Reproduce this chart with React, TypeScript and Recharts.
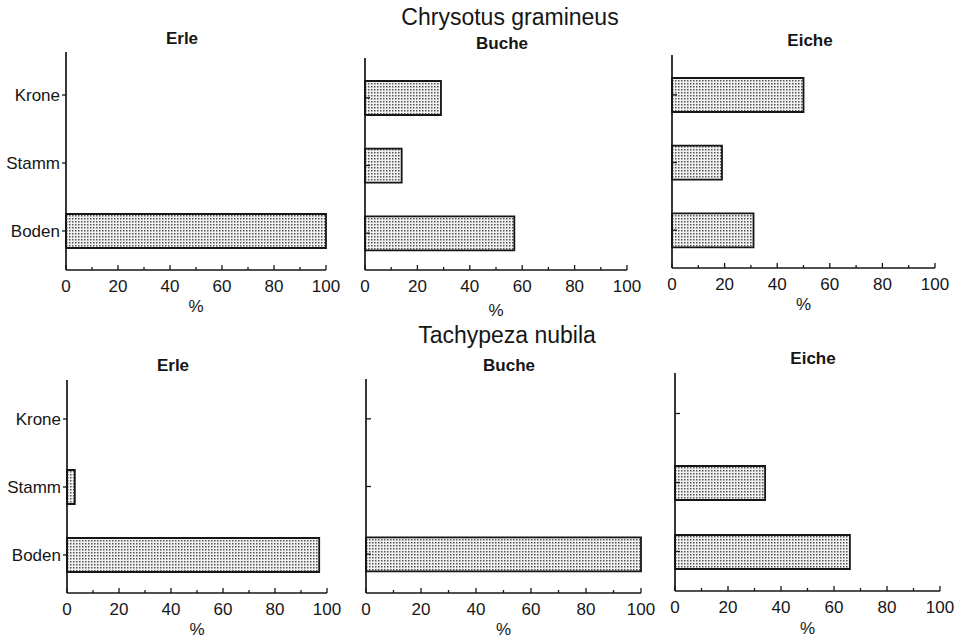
import { BarChart, Bar, XAxis, YAxis } from 'recharts'

// zones on the tree, top to bottom
const zones = ['Krone', 'Stamm', 'Boden']

// share of catches per zone, %
const chrysotusErle = [0, 0, 100]
const chrysotusBuche = [29, 14, 57]
const chrysotusEiche = [50, 19, 31]
const tachypezaErle = [0, 3, 97]
const tachypezaBuche = [0, 0, 100]
const tachypezaEiche = [0, 34, 66]

const xTicks = [0, 10, 20, 30, 40, 50, 60, 70, 80, 90, 100]

const FONT = '"Liberation Sans", Arial, Helvetica, sans-serif'
const INK = '#161616'

interface PanelLayout {
  title: string
  values: number[]
  x0: number
  x1: number
  top: number
  bottom: number
  padTop: number
  padBottom: number
  titleX: number
  titleY: number
  pctY: number
  labels: boolean
}

const panels: PanelLayout[] = [
  { title: 'Erle', values: chrysotusErle, x0: 66, x1: 326, top: 52, bottom: 270, padTop: 9, padBottom: 5, titleX: 182, titleY: 38, pctY: 306, labels: true },
  { title: 'Buche', values: chrysotusBuche, x0: 365, x1: 627, top: 58, bottom: 270, padTop: 6, padBottom: 3, titleX: 502, titleY: 43, pctY: 310, labels: false },
  { title: 'Eiche', values: chrysotusEiche, x0: 672, x1: 935, top: 55, bottom: 268, padTop: 6, padBottom: 4, titleX: 810, titleY: 40, pctY: 304, labels: false },
  { title: 'Erle', values: tachypezaErle, x0: 67, x1: 327, top: 380, bottom: 593, padTop: 5, padBottom: 4, titleX: 173, titleY: 365, pctY: 629, labels: true },
  { title: 'Buche', values: tachypezaBuche, x0: 366, x1: 641, top: 379, bottom: 593, padTop: 6, padBottom: 5, titleX: 509, titleY: 365, pctY: 629, labels: false },
  { title: 'Eiche', values: tachypezaEiche, x0: 675, x1: 940, top: 373, bottom: 591, padTop: 6, padBottom: 5, titleX: 813, titleY: 358, pctY: 628, labels: false },
]

const speciesTitles = [
  { text: 'Chrysotus gramineus', x: 510, y: 17 },
  { text: 'Tachypeza nubila', x: 507, y: 335 },
]

function XTick(props: any) {
  const { x, y, payload } = props
  const major = payload.value % 20 === 0
  return (
    <g>
      <line x1={x} x2={x} y1={y} y2={y - (major ? 5 : 3)} stroke={INK} strokeWidth={1.3} />
      {major && (
        <text x={x} y={y + 22} textAnchor="middle" fontSize={17} fontFamily={FONT} fill={INK}>
          {payload.value}
        </text>
      )}
    </g>
  )
}

function YTick(props: any) {
  const { x, y, payload, labelled } = props
  return (
    <g>
      {labelled ? (
        <line x1={x - 4} x2={x} y1={y} y2={y} stroke={INK} strokeWidth={1.3} />
      ) : (
        <line x1={x} x2={x + 5} y1={y} y2={y} stroke={INK} strokeWidth={1.3} />
      )}
      {labelled && (
        <text x={x - 6} y={y + 6} textAnchor="end" fontSize={17} fontFamily={FONT} fill={INK}>
          {payload.value}
        </text>
      )}
    </g>
  )
}

function Panel({ p }: { p: PanelLayout }) {
  const data = zones.map((zone, i) => ({ zone, value: p.values[i] }))
  const leftSpace = 70
  const rightSpace = 24
  const width = leftSpace + (p.x1 - p.x0) + rightSpace
  const height = p.bottom - p.top + 30

  return (
    <div style={{ position: 'absolute', left: p.x0 - leftSpace, top: p.top }}>
      <BarChart
        width={width}
        height={height}
        data={data}
        layout="vertical"
        margin={{ top: 0, right: rightSpace, bottom: 0, left: 0 }}
      >
        <XAxis
          type="number"
          domain={[0, 100]}
          ticks={xTicks}
          interval={0}
          height={30}
          tickSize={0}
          tickMargin={0}
          tickLine={false}
          axisLine={{ stroke: INK, strokeWidth: 1.7 }}
          tick={(t: any) => <XTick {...t} />}
        />
        <YAxis
          type="category"
          dataKey="zone"
          width={leftSpace}
          padding={{ top: p.padTop, bottom: p.padBottom }}
          tickSize={0}
          tickMargin={0}
          tickLine={false}
          axisLine={{ stroke: INK, strokeWidth: 1.7 }}
          tick={(t: any) => <YTick {...t} labelled={p.labels} />}
        />
        <Bar
          dataKey="value"
          barSize={34}
          fill="url(#dotFill)"
          stroke={INK}
          strokeWidth={1.8}
          isAnimationActive={false}
        />
      </BarChart>
      <div
        style={{
          position: 'absolute',
          left: p.titleX - (p.x0 - leftSpace),
          top: p.titleY - p.top,
          transform: 'translate(-50%, -50%)',
          fontFamily: FONT,
          fontWeight: 700,
          fontSize: 17,
          lineHeight: 1,
          color: INK,
          whiteSpace: 'nowrap',
        }}
      >
        {p.title}
      </div>
      <div
        style={{
          position: 'absolute',
          left: (p.x0 + p.x1) / 2 - (p.x0 - leftSpace),
          top: p.pctY - p.top,
          transform: 'translate(-50%, -50%)',
          fontFamily: FONT,
          fontSize: 17,
          lineHeight: 1,
          color: INK,
        }}
      >
        %
      </div>
    </div>
  )
}

export default function App() {
  return (
    <div
      style={{
        position: 'absolute',
        left: 0,
        top: 0,
        width: 964,
        height: 639,
        background: '#fff',
        overflow: 'hidden',
      }}
    >
      <svg width={0} height={0} style={{ position: 'absolute' }}>
        <defs>
          <pattern id="dotFill" width={3} height={3} patternUnits="userSpaceOnUse">
            <rect width={3} height={3} fill="#f1f1f1" />
            <rect x={1} y={1} width={1.5} height={1.5} fill="#555" />
          </pattern>
        </defs>
      </svg>

      {speciesTitles.map((s) => (
        <div
          key={s.text}
          style={{
            position: 'absolute',
            left: s.x,
            top: s.y,
            transform: 'translate(-50%, -50%)',
            fontFamily: FONT,
            fontSize: 23,
            lineHeight: 1,
            color: INK,
            whiteSpace: 'nowrap',
          }}
        >
          {s.text}
        </div>
      ))}

      {panels.map((p, i) => (
        <Panel key={i} p={p} />
      ))}
    </div>
  )
}
